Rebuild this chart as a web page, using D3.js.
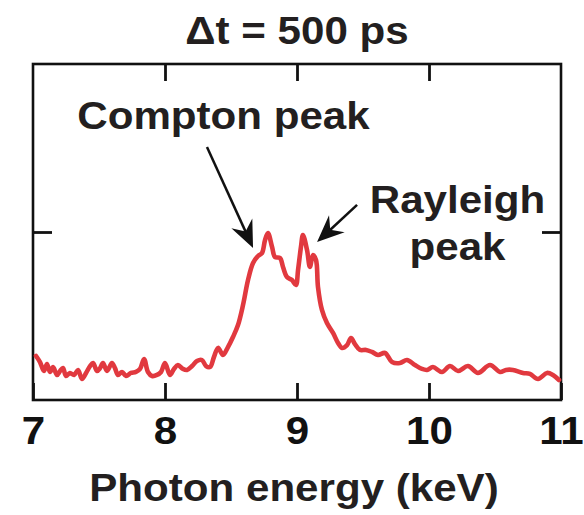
<!DOCTYPE html>
<html>
<head>
<meta charset="utf-8">
<script src="https://cdn.jsdelivr.net/npm/d3@7"></script>
<style>
  html, body { margin: 0; padding: 0; background: #fff; }
  svg { display: block; }
</style>
</head>
<body>
<svg id="chart"></svg>
<script>
// spectrum (keV, arbitrary intensity)
const energy = [
  7.023, 7.053, 7.083, 7.106, 7.129, 7.152, 7.182, 7.205, 7.227, 7.250,
  7.280, 7.311, 7.341, 7.371, 7.402, 7.432, 7.455, 7.485, 7.508, 7.530,
  7.561, 7.598, 7.621, 7.644, 7.674, 7.705, 7.742, 7.780, 7.811, 7.841,
  7.871, 7.902, 7.939, 7.970, 8.000, 8.038, 8.068, 8.098, 8.136, 8.167,
  8.205, 8.242, 8.280, 8.311, 8.341, 8.371, 8.402, 8.439, 8.477, 8.515,
  8.553, 8.591, 8.629, 8.667, 8.705, 8.735, 8.758, 8.780, 8.811, 8.833,
  8.871, 8.894, 8.924, 8.962, 8.992, 9.008, 9.030, 9.045, 9.076, 9.098,
  9.121, 9.144, 9.159, 9.189, 9.227, 9.273, 9.311, 9.341, 9.379, 9.409,
  9.439, 9.477, 9.523, 9.568, 9.614, 9.667, 9.720, 9.780, 9.833, 9.894,
  9.947, 9.985, 10.030, 10.098, 10.159, 10.220, 10.295, 10.371, 10.462, 10.538,
  10.583, 10.636, 10.712, 10.765, 10.826, 10.894, 10.939, 10.985
];
const intensity = [
  0.262, 0.226, 0.173, 0.214, 0.167, 0.196, 0.149, 0.173, 0.190, 0.143,
  0.161, 0.149, 0.179, 0.125, 0.161, 0.202, 0.220, 0.173, 0.190, 0.220,
  0.173, 0.220, 0.190, 0.149, 0.167, 0.143, 0.161, 0.167, 0.185, 0.244,
  0.167, 0.143, 0.149, 0.167, 0.220, 0.149, 0.185, 0.208, 0.185, 0.179,
  0.202, 0.232, 0.238, 0.202, 0.196, 0.256, 0.310, 0.268, 0.315, 0.375,
  0.446, 0.565, 0.714, 0.815, 0.857, 0.875, 0.952, 0.994, 0.911, 0.851,
  0.845, 0.792, 0.732, 0.714, 0.685, 0.774, 0.911, 0.982, 0.893, 0.792,
  0.863, 0.833, 0.673, 0.536, 0.458, 0.399, 0.339, 0.310, 0.327, 0.369,
  0.333, 0.298, 0.298, 0.286, 0.268, 0.280, 0.226, 0.220, 0.238, 0.208,
  0.185, 0.179, 0.196, 0.167, 0.202, 0.173, 0.202, 0.161, 0.208, 0.167,
  0.179, 0.179, 0.161, 0.155, 0.125, 0.161, 0.149, 0.119
];

const xTicks = [7, 8, 9, 10, 11];
const yTicks = [1];
const titleText = "\u0394t = 500 ps";
const xLabel = "Photon energy (keV)";

// annotation text, anchored in data units
const noteText = ["Compton peak", "Rayleigh", "peak"];
const noteX = [8.443, 10.216, 10.216];
const noteY = [1.613, 1.113, 0.833];

// arrows: start -> tip, in data units
const arrowFromX = [8.318, 9.455];
const arrowFromY = [1.506, 1.161];
const arrowToX = [8.667, 9.152];
const arrowToY = [0.905, 0.940];

const width = 584;
const height = 515;
const margin = {top: 64, right: 23, bottom: 115, left: 33};
const red = "#e1393f";
const fontSize = 39;
const stretch = "scale(1.08,1)";

const svg = d3.select("#chart")
    .attr("width", width)
    .attr("height", height)
    .attr("font-family", "'Liberation Sans', Arial, Helvetica, sans-serif")
    .attr("font-weight", "bold");

const x = d3.scaleLinear()
    .domain([7, 11])
    .range([margin.left, width - margin.right]);
const y = d3.scaleLinear()
    .domain([0, 2])
    .range([height - margin.bottom, margin.top]);

const x0 = x.range()[0], x1 = x.range()[1];
const y0 = y.range()[0], y1 = y.range()[1];

// arrow head
svg.append("defs").append("marker")
    .attr("id", "head")
    .attr("markerUnits", "userSpaceOnUse")
    .attr("viewBox", "-40 -14 42 28")
    .attr("markerWidth", 42)
    .attr("markerHeight", 28)
    .attr("refX", -10)
    .attr("refY", 0)
    .attr("orient", "auto")
    .append("path")
    .attr("d", "M0,0 L-27,-11.5 L-18,0 L-27,11.5 Z")
    .attr("fill", "#111");

// ticks, all pointing inward
const tickStyle = g => {
    g.select(".domain").remove();
    g.selectAll(".tick line").attr("stroke", "#111").attr("stroke-width", 2.8);
};

svg.append("g")
    .attr("transform", `translate(0,${y0})`)
    .call(d3.axisBottom(x).tickValues(xTicks).tickSize(-17).tickSizeOuter(0).tickFormat(d3.format("d")))
    .call(tickStyle)
    .call(g => g.selectAll(".tick text")
        .attr("dy", null)
        .attr("y", 44)
        .attr("fill", "#111")
        .attr("font-size", fontSize)
        .attr("font-family", "'Liberation Sans', Arial, Helvetica, sans-serif")
        .attr("font-weight", "bold")
        .attr("transform", stretch));

svg.append("g")
    .attr("transform", `translate(0,${y1})`)
    .call(d3.axisTop(x).tickValues(xTicks.slice(1, -1)).tickSize(-17).tickSizeOuter(0).tickFormat(""))
    .call(tickStyle);

svg.append("g")
    .attr("transform", `translate(${x0},0)`)
    .call(d3.axisLeft(y).tickValues(yTicks).tickSize(-19).tickSizeOuter(0).tickFormat(""))
    .call(tickStyle);

svg.append("g")
    .attr("transform", `translate(${x1},0)`)
    .call(d3.axisRight(y).tickValues(yTicks).tickSize(-19).tickSizeOuter(0).tickFormat(""))
    .call(tickStyle);

// frame
svg.append("rect")
    .attr("x", x0)
    .attr("y", y1)
    .attr("width", x1 - x0)
    .attr("height", y0 - y1)
    .attr("fill", "none")
    .attr("stroke", "#111")
    .attr("stroke-width", 2.6);

// spectrum
const points = energy.map((e, i) => [e, intensity[i]]);
const line = d3.line()
    .x(d => x(d[0]))
    .y(d => y(d[1]))
    .curve(d3.curveCatmullRom.alpha(0.5));

svg.append("path")
    .datum(points)
    .attr("d", line)
    .attr("fill", "none")
    .attr("stroke", red)
    .attr("stroke-width", 4.6)
    .attr("stroke-linejoin", "round")
    .attr("stroke-linecap", "round");

// arrows (line stops short; the marker is offset so its tip lands on the target)
arrowFromX.forEach((fx, i) => {
    const ax = x(fx), ay = y(arrowFromY[i]);
    const bx = x(arrowToX[i]), by = y(arrowToY[i]);
    const len = Math.hypot(bx - ax, by - ay);
    const k = (len - 10) / len;
    svg.append("line")
        .attr("x1", ax)
        .attr("y1", ay)
        .attr("x2", ax + (bx - ax) * k)
        .attr("y2", ay + (by - ay) * k)
        .attr("stroke", "#111")
        .attr("stroke-width", 2.5)
        .attr("marker-end", "url(#head)");
});

// text helper: centred, slightly widened like the source lettering
const label = (txt, px, py) => {
    svg.append("g")
        .attr("transform", `translate(${px},${py})`)
        .append("text")
        .attr("transform", stretch)
        .attr("text-anchor", "middle")
        .attr("font-size", fontSize)
        .attr("fill", "#231f20")
        .text(txt);
};

noteText.forEach((t, i) => label(t, x(noteX[i]), y(noteY[i])));

label(titleText, (x0 + x1) / 2, 44);
label(xLabel, (x0 + x1) / 2 - 3, 501);
</script>
</body>
</html>
